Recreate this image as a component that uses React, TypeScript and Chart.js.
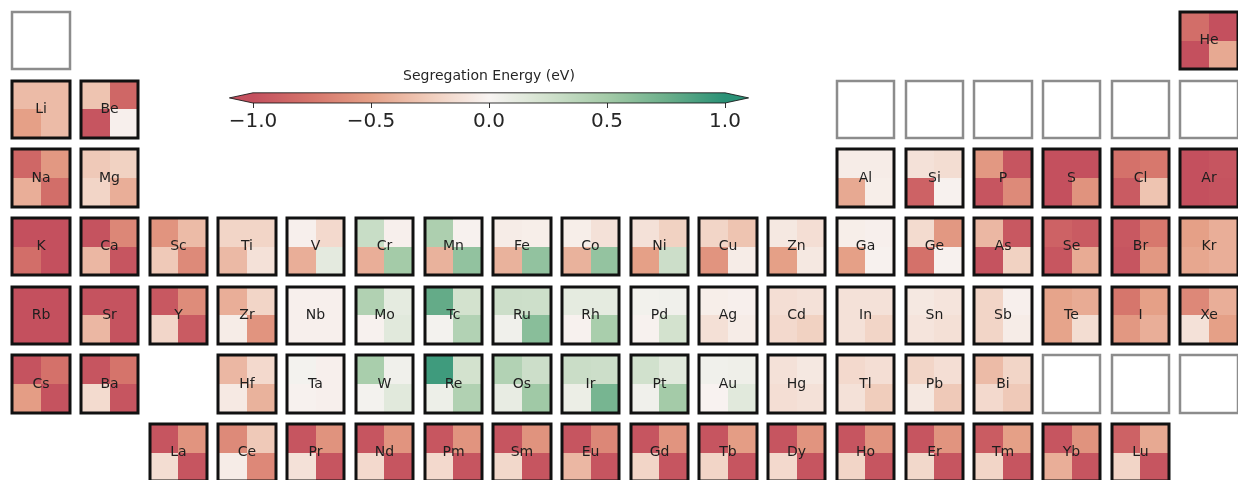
import { useEffect, useRef } from "react";
import { Chart, registerables } from "chart.js";

Chart.register(...registerables);

// Element tiles: symbol and its slot in the table grid (1-based column, row)
const symbols = [
  "H", "He",
  "Li", "Be", "B", "C", "N", "O", "F", "Ne",
  "Na", "Mg", "Al", "Si", "P", "S", "Cl", "Ar",
  "K", "Ca", "Sc", "Ti", "V", "Cr", "Mn", "Fe", "Co", "Ni", "Cu", "Zn", "Ga", "Ge", "As", "Se", "Br", "Kr",
  "Rb", "Sr", "Y", "Zr", "Nb", "Mo", "Tc", "Ru", "Rh", "Pd", "Ag", "Cd", "In", "Sn", "Sb", "Te", "I", "Xe",
  "Cs", "Ba", "Hf", "Ta", "W", "Re", "Os", "Ir", "Pt", "Au", "Hg", "Tl", "Pb", "Bi", "Po", "At", "Rn",
  "La", "Ce", "Pr", "Nd", "Pm", "Sm", "Eu", "Gd", "Tb", "Dy", "Ho", "Er", "Tm", "Yb", "Lu",
];
const tableCol = [
  1, 18,
  1, 2, 13, 14, 15, 16, 17, 18,
  1, 2, 13, 14, 15, 16, 17, 18,
  1, 2, 3, 4, 5, 6, 7, 8, 9, 10, 11, 12, 13, 14, 15, 16, 17, 18,
  1, 2, 3, 4, 5, 6, 7, 8, 9, 10, 11, 12, 13, 14, 15, 16, 17, 18,
  1, 2, 4, 5, 6, 7, 8, 9, 10, 11, 12, 13, 14, 15, 16, 17, 18,
  3, 4, 5, 6, 7, 8, 9, 10, 11, 12, 13, 14, 15, 16, 17,
];
const tableRow = [
  1, 1,
  2, 2, 2, 2, 2, 2, 2, 2,
  3, 3, 3, 3, 3, 3, 3, 3,
  4, 4, 4, 4, 4, 4, 4, 4, 4, 4, 4, 4, 4, 4, 4, 4, 4, 4,
  5, 5, 5, 5, 5, 5, 5, 5, 5, 5, 5, 5, 5, 5, 5, 5, 5, 5,
  6, 6, 6, 6, 6, 6, 6, 6, 6, 6, 6, 6, 6, 6, 6, 6, 6,
  7, 7, 7, 7, 7, 7, 7, 7, 7, 7, 7, 7, 7, 7, 7,
];

// Segregation energy (eV) of each quadrant of a tile; null = not computed
const segTopLeft = [
  null, -0.8,
  -0.35, -0.3, null, null, null, null, null, null,
  -0.85, -0.27, -0.05, -0.12, -0.55, -1.0, -0.78, -1.0,
  -1.0, -0.98, -0.57, -0.2, -0.03, 0.3, 0.45, -0.05, -0.04, -0.12, -0.2, -0.08, -0.04, -0.16, -0.37, -0.88, -0.95, -0.5,
  -1.0, -0.98, -0.95, -0.42, -0.03, 0.43, 0.78, 0.28, 0.12, 0.04, -0.04, -0.14, -0.12, -0.08, -0.2, -0.48, -0.75, -0.64,
  -0.98, -0.97, -0.37, 0.03, 0.47, 0.92, 0.42, 0.29, 0.25, 0.05, -0.12, -0.17, -0.2, -0.35, null, null, null,
  -0.97, -0.63, -0.97, -0.97, -0.96, -0.97, -0.97, -0.97, -0.97, -0.97, -0.97, -0.97, -0.92, -0.97, -0.88,
];
const segTopRight = [
  null, -1.0,
  -0.35, -0.85, null, null, null, null, null, null,
  -0.55, -0.22, -0.05, -0.15, -0.97, -1.0, -0.74, -0.97,
  -1.0, -0.65, -0.35, -0.2, -0.17, -0.03, -0.02, -0.04, -0.12, -0.22, -0.3, -0.14, -0.03, -0.55, -0.95, -0.93, -0.74, -0.42,
  -1.0, -0.98, -0.62, -0.2, -0.03, 0.12, 0.24, 0.27, 0.12, 0.05, -0.03, -0.12, -0.12, -0.1, -0.03, -0.44, -0.5, -0.42,
  -0.78, -0.76, -0.17, -0.03, 0.05, 0.24, 0.28, 0.28, 0.15, 0.06, -0.08, -0.14, -0.14, -0.2, null, null, null,
  -0.57, -0.27, -0.58, -0.57, -0.57, -0.58, -0.65, -0.57, -0.52, -0.57, -0.57, -0.57, -0.5, -0.58, -0.45,
];
const segBottomLeft = [
  null, -1.0,
  -0.5, -0.97, null, null, null, null, null, null,
  -0.42, -0.2, -0.45, -0.88, -0.97, -1.0, -0.93, -1.0,
  -0.8, -0.37, -0.27, -0.36, -0.42, -0.42, -0.4, -0.4, -0.4, -0.5, -0.57, -0.5, -0.5, -0.78, -0.98, -0.96, -0.97, -0.46,
  -1.0, -0.37, -0.19, -0.05, -0.03, -0.02, 0.03, 0.05, -0.02, -0.02, -0.13, -0.17, -0.12, -0.1, -0.2, -0.48, -0.55, -0.12,
  -0.52, -0.16, -0.07, -0.02, 0.03, 0.07, 0.1, 0.08, 0.05, -0.01, -0.14, -0.12, -0.08, -0.17, null, null, null,
  -0.15, -0.05, -0.12, -0.17, -0.17, -0.18, -0.37, -0.2, -0.2, -0.17, -0.2, -0.18, -0.2, -0.42, -0.2,
];
const segBottomRight = [
  null, -0.45,
  -0.35, -0.03, null, null, null, null, null, null,
  -0.8, -0.42, -0.04, -0.02, -0.63, -0.58, -0.3, -0.98,
  -1.0, -0.97, -0.63, -0.12, 0.13, 0.5, 0.58, 0.58, 0.57, 0.28, -0.05, -0.08, -0.02, -0.02, -0.22, -0.44, -0.55, -0.42,
  -1.0, -0.98, -0.93, -0.57, -0.03, 0.15, 0.42, 0.62, 0.47, 0.24, -0.05, -0.22, -0.2, -0.13, -0.05, -0.15, -0.42, -0.5,
  -0.98, -0.97, -0.4, -0.03, 0.15, 0.43, 0.52, 0.7, 0.5, 0.15, -0.12, -0.25, -0.27, -0.27, null, null, null,
  -0.97, -0.64, -0.97, -0.97, -0.97, -0.97, -0.97, -0.97, -0.97, -0.97, -0.97, -0.97, -0.97, -0.97, -0.97,
];

const colorbarTicks = [-1.0, -0.5, 0.0, 0.5, 1.0];
const colorbarLabel = "Segregation Energy (eV)";

// Diverging red → white → teal colour ramp
const rampStops: [number, number[]][] = [
  [-1.0, [196, 80, 94]],
  [-0.75, [214, 118, 108]],
  [-0.5, [229, 160, 135]],
  [-0.25, [240, 205, 188]],
  [0.0, [248, 244, 242]],
  [0.25, [209, 225, 205]],
  [0.5, [164, 203, 168]],
  [0.75, [108, 175, 139]],
  [1.0, [42, 145, 118]],
];

function rampColor(v: number): string {
  const t = Math.max(-1, Math.min(1, v));
  for (let k = 0; k < rampStops.length - 1; k++) {
    const [v0, c0] = rampStops[k];
    const [v1, c1] = rampStops[k + 1];
    if (t <= v1) {
      const f = (t - v0) / (v1 - v0);
      const c = c0.map((a, j) => Math.round(a + (c1[j] - a) * f));
      return `rgb(${c[0]},${c[1]},${c[2]})`;
    }
  }
  const c = rampStops[rampStops.length - 1][1];
  return `rgb(${c[0]},${c[1]},${c[2]})`;
}

const FONT = '"DejaVu Sans", "Liberation Sans", sans-serif';
const HALF = 0.417;

const tilePlugin = {
  id: "segregationTiles",
  afterDatasetsDraw(chart: any) {
    const { ctx } = chart;
    const xs = chart.scales.x;
    const ys = chart.scales.y;
    ctx.save();
    symbols.forEach((sym, i) => {
      const c = tableCol[i];
      const r = tableRow[i];
      const l = Math.round(xs.getPixelForValue(c - HALF));
      const rt = Math.round(xs.getPixelForValue(c + HALF));
      const t = Math.round(ys.getPixelForValue(r - HALF));
      const b = Math.round(ys.getPixelForValue(r + HALF));
      const mx = Math.round(xs.getPixelForValue(c));
      const my = Math.round(ys.getPixelForValue(r));
      const tl = segTopLeft[i];
      if (tl === null) {
        ctx.fillStyle = "#ffffff";
        ctx.fillRect(l, t, rt - l, b - t);
        ctx.strokeStyle = "#8c8c8c";
        ctx.lineWidth = 2.5;
        ctx.strokeRect(l, t, rt - l, b - t);
        return;
      }
      ctx.fillStyle = rampColor(tl);
      ctx.fillRect(l, t, mx - l, my - t);
      ctx.fillStyle = rampColor(segTopRight[i] as number);
      ctx.fillRect(mx, t, rt - mx, my - t);
      ctx.fillStyle = rampColor(segBottomLeft[i] as number);
      ctx.fillRect(l, my, mx - l, b - my);
      ctx.fillStyle = rampColor(segBottomRight[i] as number);
      ctx.fillRect(mx, my, rt - mx, b - my);
      ctx.strokeStyle = "#111111";
      ctx.lineWidth = 3;
      ctx.strokeRect(l, t, rt - l, b - t);
      ctx.fillStyle = "#1e1e1e";
      ctx.font = `14px ${FONT}`;
      ctx.textAlign = "center";
      ctx.textBaseline = "middle";
      ctx.fillText(sym, (l + rt) / 2, (t + b) / 2);
    });
    ctx.restore();
  },
};

const colorbarPlugin = {
  id: "colorbarExtends",
  afterDatasetsDraw(chart: any) {
    const { ctx, chartArea } = chart;
    const xs = chart.scales.x;
    const x0 = xs.getPixelForValue(colorbarTicks[0]);
    const x1 = xs.getPixelForValue(colorbarTicks[colorbarTicks.length - 1]);
    const ext = 0.05 * (x1 - x0);
    const top = chartArea.top;
    const bot = chartArea.bottom;
    const mid = (top + bot) / 2;
    ctx.save();
    ctx.fillStyle = rampColor(-1);
    ctx.beginPath();
    ctx.moveTo(x0, top);
    ctx.lineTo(x0 - ext, mid);
    ctx.lineTo(x0, bot);
    ctx.closePath();
    ctx.fill();
    ctx.fillStyle = rampColor(1);
    ctx.beginPath();
    ctx.moveTo(x1, top);
    ctx.lineTo(x1 + ext, mid);
    ctx.lineTo(x1, bot);
    ctx.closePath();
    ctx.fill();
    ctx.strokeStyle = "rgba(20,20,20,0.85)";
    ctx.lineWidth = 1;
    ctx.beginPath();
    ctx.moveTo(x0 - ext, mid);
    ctx.lineTo(x0, top);
    ctx.lineTo(x1, top);
    ctx.lineTo(x1 + ext, mid);
    ctx.lineTo(x1, bot);
    ctx.lineTo(x0, bot);
    ctx.closePath();
    ctx.stroke();
    ctx.restore();
  },
};

export default function App() {
  const mainRef = useRef<HTMLCanvasElement>(null);
  const barRef = useRef<HTMLCanvasElement>(null);

  useEffect(() => {
    const points = symbols.map((_, i) => ({ x: tableCol[i], y: tableRow[i] }));
    const main = new Chart(mainRef.current as HTMLCanvasElement, {
      type: "scatter",
      data: {
        datasets: [{ data: points, pointRadius: 0, pointHoverRadius: 0 }],
      },
      options: {
        animation: false,
        responsive: false,
        events: [],
        layout: { padding: 0 },
        plugins: { legend: { display: false }, tooltip: { enabled: false } },
        scales: {
          x: { type: "linear", min: 0.4056, max: 18.421, display: false },
          y: { type: "linear", min: 0.4106, max: 7.3956, reverse: true, display: false },
        },
      },
      plugins: [tilePlugin],
    } as any);

    const bar = new Chart(barRef.current as HTMLCanvasElement, {
      type: "bar",
      data: {
        labels: [""],
        datasets: [
          {
            data: [[colorbarTicks[0], colorbarTicks[colorbarTicks.length - 1]]],
            borderWidth: 0,
            barPercentage: 1,
            categoryPercentage: 1,
            backgroundColor: (c: any) => {
              const ch = c.chart;
              if (!ch.chartArea) return "transparent";
              const xs = ch.scales.x;
              const a = xs.getPixelForValue(-1);
              const z = xs.getPixelForValue(1);
              const g = ch.ctx.createLinearGradient(a, 0, z, 0);
              for (let k = 0; k <= 40; k++) g.addColorStop(k / 40, rampColor(-1 + (2 * k) / 40));
              return g;
            },
          },
        ],
      },
      options: {
        indexAxis: "y",
        animation: false,
        responsive: false,
        events: [],
        layout: { padding: { left: 53, right: 55, top: 13, bottom: 0 } },
        plugins: {
          legend: { display: false },
          tooltip: { enabled: false },
          title: {
            display: true,
            text: colorbarLabel,
            color: "#262626",
            font: { family: FONT, size: 14, weight: "normal" },
            padding: { top: 0, bottom: 8 },
          },
        },
        scales: {
          x: {
            type: "linear",
            min: -1,
            max: 1,
            afterBuildTicks: (s: any) => {
              s.ticks = colorbarTicks.map((v) => ({ value: v }));
            },
            ticks: {
              autoSkip: false,
              maxRotation: 0,
              padding: 2,
              color: "#262626",
              font: { family: FONT, size: 20 },
              callback: (v: any) => {
                const n = Number(v);
                const s = Math.abs(n).toFixed(1);
                return n < 0 ? "\u2212" + s : s;
              },
            },
            grid: { drawOnChartArea: false, drawTicks: true, tickLength: 5, color: "#333333", lineWidth: 1 },
            border: { display: false },
          },
          y: { display: false },
        },
      },
      plugins: [colorbarPlugin],
    } as any);

    return () => {
      main.destroy();
      bar.destroy();
    };
  }, []);

  return (
    <div style={{ position: "fixed", left: 0, top: 0, width: 1238, height: 480, background: "#ffffff", overflow: "hidden" }}>
      <canvas ref={mainRef} width={1238} height={480} style={{ position: "absolute", left: 0, top: 0 }} />
      <canvas ref={barRef} width={580} height={81} style={{ position: "absolute", left: 200, top: 55 }} />
    </div>
  );
}
